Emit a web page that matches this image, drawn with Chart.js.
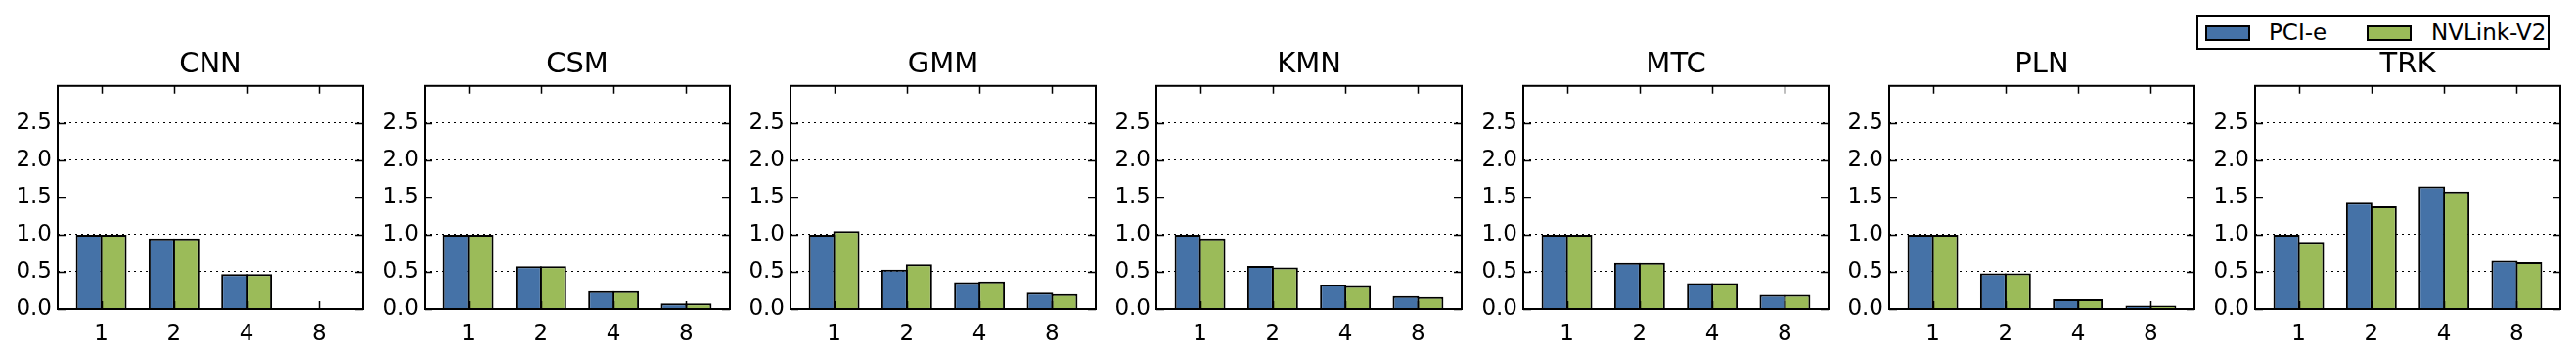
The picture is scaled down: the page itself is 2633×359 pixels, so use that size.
<!DOCTYPE html>
<html>
<head>
<meta charset="utf-8">
<script src="https://cdn.jsdelivr.net/npm/chart.js@4"></script>
<style>
  body { margin: 0; background: #fff; width: 2633px; height: 359px; position: relative; overflow: hidden; font-family: "DejaVu Sans", sans-serif; }
  canvas { position: absolute; top: 0; }
  #legend { position: absolute; left: 2245px; top: 15px; width: 361px; height: 36px; border: 2px solid #000; box-sizing: border-box; }
  .sw { position: absolute; width: 46px; height: 16px; border: 2px solid #000; box-sizing: border-box; top: 9px; }
  .lt { position: absolute; top: 16px; transform: translateY(-50%); font-size: 23px; line-height: 1; color: #000; }
</style>
</head>
<body>
<div id="legend"></div>
<script>
// chart data
const panels = ["CNN", "CSM", "GMM", "KMN", "MTC", "PLN", "TRK"];
const gpuCounts = ["1", "2", "4", "8"];
const seriesNames = ["PCI-e", "NVLink-V2"];
const seriesColors = ["#4572a7", "#9bbb59"];

const pcie = {
    CNN: [1.0, 0.95, 0.47, 0.0],
    CSM: [1.0, 0.575, 0.24, 0.075],
    GMM: [1.0, 0.53, 0.36, 0.22],
    KMN: [1.0, 0.58, 0.33, 0.175],
    MTC: [1.0, 0.62, 0.35, 0.19],
    PLN: [1.0, 0.48, 0.13, 0.045],
    TRK: [1.0, 1.43, 1.65, 0.65]
};
const nvlink = {
    CNN: [1.0, 0.95, 0.47, 0.0],
    CSM: [1.0, 0.575, 0.24, 0.075],
    GMM: [1.05, 0.60, 0.37, 0.20],
    KMN: [0.95, 0.56, 0.31, 0.16],
    MTC: [1.0, 0.62, 0.35, 0.19],
    PLN: [1.0, 0.48, 0.13, 0.045],
    TRK: [0.89, 1.38, 1.58, 0.63]
};
const yTicks = [0, 0.5, 1.0, 1.5, 2.0, 2.5];

const plotLefts = [59, 434, 808, 1182, 1557, 1931, 2305];
const plotWidth = 312;
const fontFamily = "'DejaVu Sans', sans-serif";

// frame + inward tick marks like the matplotlib classic style
const framePlugin = {
    id: 'frame',
    afterDatasetsDraw(chart) {
        const ctx = chart.ctx;
        const a = chart.chartArea;
        const xs = chart.scales.x, ys = chart.scales.y;
        ctx.save();
        ctx.strokeStyle = '#000';
        ctx.lineWidth = 1.5;
        ctx.setLineDash([]);
        gpuCounts.forEach((c, i) => {
            const px = Math.round(xs.getPixelForValue(i)) + 0.5;
            ctx.beginPath();
            ctx.moveTo(px, a.top); ctx.lineTo(px, a.top + 8);
            ctx.moveTo(px, a.bottom); ctx.lineTo(px, a.bottom - 8);
            ctx.stroke();
        });
        yTicks.forEach(v => {
            const py = Math.round(ys.getPixelForValue(v)) + 0.5;
            ctx.beginPath();
            ctx.moveTo(a.left, py); ctx.lineTo(a.left + 8, py);
            ctx.moveTo(a.right, py); ctx.lineTo(a.right - 8, py);
            ctx.stroke();
        });
        ctx.lineWidth = 2;
        ctx.strokeRect(a.left, a.top, a.right - a.left, a.bottom - a.top);
        ctx.restore();
    }
};

function createChart(name, idx) {
    const canvas = document.createElement('canvas');
    canvas.width = 60 + plotWidth + 6;
    canvas.height = 359;
    canvas.style.left = (plotLefts[idx] - 60) + 'px';
    document.body.appendChild(canvas);

    const series = [pcie[name], nvlink[name]];

    new Chart(canvas.getContext('2d'), {
        type: 'bar',
        data: {
            datasets: series.map((vals, s) => ({
                label: seriesNames[s],
                data: vals.map((v, i) => ({ x: i, y: v })),
                backgroundColor: seriesColors[s],
                borderColor: '#000',
                borderWidth: 2,
                categoryPercentage: 0.672,
                barPercentage: 1.08
            }))
        },
        options: {
            responsive: false,
            animation: false,
            layout: { padding: { left: 0, right: 6, top: 49, bottom: 0 } },
            plugins: {
                legend: { display: false },
                tooltip: { enabled: false },
                title: {
                    display: true,
                    text: name,
                    fullSize: false,
                    color: '#000',
                    font: { family: fontFamily, size: 29, weight: 'normal' },
                    padding: { top: 0, bottom: 4 }
                }
            },
            scales: {
                x: {
                    type: 'linear',
                    offset: false,
                    min: -0.6,
                    max: 3.6,
                    afterBuildTicks: scale => { scale.ticks = gpuCounts.map((c, i) => ({ value: i })); },
                    afterFit: scale => { scale.height = 43; },
                    grid: { display: false, offset: false },
                    border: { display: false },
                    ticks: {
                        color: '#000',
                        padding: 4,
                        maxRotation: 0,
                        font: { family: fontFamily, size: 23 },
                        callback: v => gpuCounts[v]
                    }
                },
                y: {
                    min: 0,
                    max: 3,
                    afterFit: scale => { scale.width = 60; },
                    grid: {
                        drawTicks: false,
                        lineWidth: 1,
                        color: c => (c.tick.value > 0 && c.tick.value < 3) ? '#000' : 'rgba(0,0,0,0)'
                    },
                    border: { display: false, dash: [2, 4] },
                    ticks: {
                        stepSize: 0.5,
                        color: '#000',
                        padding: 6,
                        font: { family: fontFamily, size: 23 },
                        callback: v => v >= 3 ? '' : v.toFixed(1)
                    }
                }
            }
        },
        plugins: [framePlugin]
    });
}

panels.forEach((p, i) => createChart(p, i));

// legend box
const legend = document.getElementById('legend');
const swLeft = [7, 172], textLeft = [72, 238];
seriesNames.forEach((n, s) => {
    const sw = document.createElement('div');
    sw.className = 'sw';
    sw.style.left = swLeft[s] + 'px';
    sw.style.background = seriesColors[s];
    legend.appendChild(sw);
    const t = document.createElement('div');
    t.className = 'lt';
    t.style.left = textLeft[s] + 'px';
    t.textContent = n;
    legend.appendChild(t);
});
</script>
</body>
</html>
